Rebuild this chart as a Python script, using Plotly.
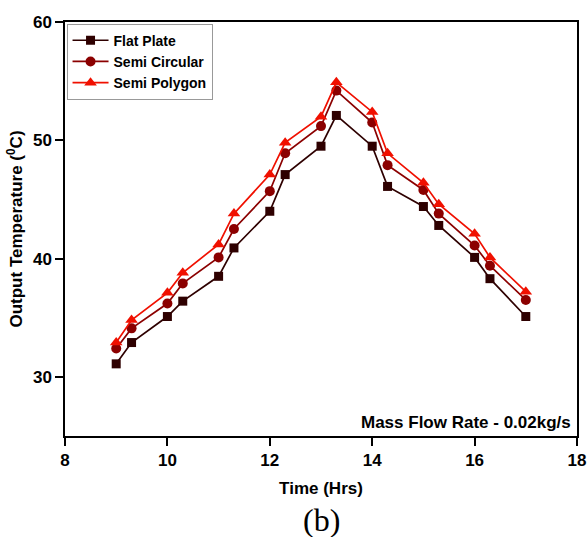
import plotly.graph_objects as go

time_hrs = [9, 9.3, 10, 10.3, 11, 11.3, 12, 12.3, 13, 13.3, 14, 14.3, 15, 15.3, 16, 16.3, 17]
flat_plate = [31.1, 32.9, 35.1, 36.4, 38.5, 40.9, 44.0, 47.1, 49.5, 52.1, 49.5, 46.1, 44.4, 42.8, 40.1, 38.3, 35.1]
semi_circular = [32.4, 34.1, 36.2, 37.9, 40.1, 42.5, 45.7, 48.9, 51.2, 54.2, 51.5, 47.9, 45.8, 43.8, 41.1, 39.4, 36.5]
semi_polygon = [32.9, 34.8, 37.1, 38.8, 41.2, 43.8, 47.1, 49.8, 52.0, 54.9, 52.4, 48.9, 46.4, 44.6, 42.1, 40.1, 37.2]

series = [
    ("Flat Plate", flat_plate, "#2e0000", "square", 9),
    ("Semi Circular", semi_circular, "#8b0000", "circle", 10),
    ("Semi Polygon", semi_polygon, "#f01000", "triangle-up", 11),
]

fig = go.Figure()
for name, vals, color, sym, size in series:
    fig.add_trace(go.Scatter(
        x=time_hrs, y=vals, name=name, mode="lines+markers",
        line=dict(color=color, width=1.7),
        marker=dict(symbol=sym, size=size, color=color),
    ))

font_bold = "Liberation Sans"
axis_common = dict(
    showline=True, linecolor="black", linewidth=1.5, mirror=True,
    ticks="outside", ticklen=8, tickcolor="black", tickwidth=1.5,
    showgrid=False, zeroline=False, automargin=False,
    tickfont=dict(family=font_bold, size=17, color="black", weight="bold"),
)

fig.update_layout(
    width=588, height=537,
    margin=dict(l=65, r=11, t=22, b=101),
    paper_bgcolor="white", plot_bgcolor="white",
    xaxis=dict(range=[8, 18], tickvals=[8, 10, 12, 14, 16, 18],
               title=dict(text="Time (Hrs)", font=dict(family=font_bold, size=17, color="black", weight="bold"), standoff=13),
               **axis_common),
    yaxis=dict(range=[25, 60], tickvals=[30, 40, 50, 60],
               title=dict(text="Output Temperature (<sup>0</sup>C)", font=dict(family=font_bold, size=17, color="black", weight="bold"), standoff=6),
               **axis_common),
    legend=dict(x=0.003, y=0.996, xanchor="left", yanchor="top",
                bgcolor="white", bordercolor="#999999", borderwidth=1,
                font=dict(family=font_bold, size=14, color="black", weight="bold"),
                tracegroupgap=0, itemwidth=36),
    showlegend=True,
    annotations=[
        dict(text="Mass Flow Rate - 0.02kg/s", xref="paper", yref="paper",
             x=0.992, y=0.006, xanchor="right", yanchor="bottom", showarrow=False,
             font=dict(family=font_bold, size=17, color="black", weight="bold")),
        dict(text="(b)", xref="paper", yref="paper",
             x=0.5, y=-0.203, xanchor="center", yanchor="middle", showarrow=False,
             font=dict(family="Liberation Serif", size=32, color="black")),
    ],
)

fig.write_html("out.html")
